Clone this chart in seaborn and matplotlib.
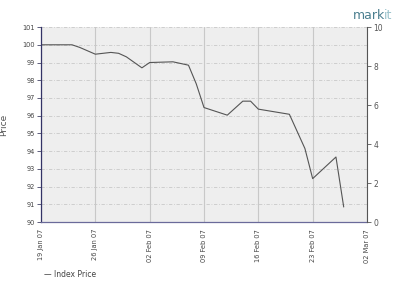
import matplotlib
matplotlib.use("Agg")
import matplotlib.pyplot as plt
import matplotlib.dates as mdates
import seaborn as sns
import pandas as pd

dates = ["2007-01-19", "2007-01-23", "2007-01-24", "2007-01-26", "2007-01-28",
         "2007-01-29", "2007-01-30", "2007-02-01", "2007-02-02", "2007-02-05",
         "2007-02-07", "2007-02-08", "2007-02-09", "2007-02-12", "2007-02-14",
         "2007-02-15", "2007-02-16", "2007-02-20", "2007-02-22", "2007-02-23",
         "2007-02-26", "2007-02-27"]
prices = [100.0, 100.0, 99.85, 99.47, 99.57,
          99.52, 99.32, 98.70, 99.00, 99.04,
          98.85, 97.80, 96.46, 96.03, 96.82,
          96.82, 96.37, 96.08, 94.15, 92.45,
          93.67, 90.85]
tick_dates = ["2007-01-19", "2007-01-26", "2007-02-02", "2007-02-09",
              "2007-02-16", "2007-02-23", "2007-03-02"]
left_ticks = list(range(90, 102))
right_ticks = [0, 2, 4, 6, 8, 10]

df = pd.DataFrame({"Date": pd.to_datetime(dates), "Price": prices})

sns.set_theme(style="white")
plt.rcParams['font.family'] = ['DejaVu Sans']

fig = plt.figure(figsize=(4, 2.88), dpi=100)
ax = fig.add_axes([0.1025, 0.229, 0.815, 0.677])
ax.set_facecolor("#eeeeee")

td = pd.to_datetime(tick_dates)
ax.set_xlim(td[0], td[-1])
ax.set_ylim(90, 101)

for t in td:
    ax.axvline(t, color="#c8c8c8", lw=0.8, zorder=0)
for y in left_ticks[1:]:
    ax.axhline(y, color="#c8c8c8", lw=0.6, ls=(0, (4, 2, 1, 2)), zorder=0)

sns.lineplot(data=df, x="Date", y="Price", ax=ax, color="#555555", lw=0.8,
             label="Index Price", legend=False)

ax.set_xticks(td)
ax.set_xticklabels([t.strftime("%d %b %y") for t in td], rotation=90,
                   fontsize=4.8, color="#444444")
ax.set_yticks(left_ticks)
ax.set_yticklabels([str(v) for v in left_ticks], fontsize=4.8, color="#444444")
ax.tick_params(axis="both", which="major", length=3, width=0.6, color="#444466",
               pad=1.5, direction="out")
ax.tick_params(axis="x", pad=2)
ax.set_xlabel("")
ax.set_ylabel("Price", fontsize=6.5, color="#555555")
ax.yaxis.set_label_coords(-0.1, 0.5)

for s in ["top", "right"]:
    ax.spines[s].set_visible(False)
ax.spines["left"].set_color("#333366")
ax.spines["left"].set_linewidth(0.9)
ax.spines["bottom"].set_color("#6a6a9a")
ax.spines["bottom"].set_linewidth(0.9)

ax2 = ax.twinx()
ax2.set_ylim(0, 10)
ax2.set_yticks(right_ticks)
ax2.set_yticklabels([str(v) for v in right_ticks], fontsize=5.5, color="#555555")
ax2.tick_params(axis="y", length=3, width=0.6, color="#555555", pad=1.5)
for s in ["top", "left", "bottom"]:
    ax2.spines[s].set_visible(False)
ax2.spines["right"].set_color("#555555")
ax2.spines["right"].set_linewidth(0.8)
ax2.grid(False)

fig.text(0.11, 0.048, "\u2014 Index Price", fontsize=5.5, color="#444444",
         ha="left", va="center")
fig.text(0.962, 0.945, "mark", fontsize=9, color="#4b7f8f", ha="right", va="center")
fig.text(0.96, 0.945, "it", fontsize=9, color="#9cc3cc", ha="left", va="center")

fig.savefig("out.png", dpi=100)
